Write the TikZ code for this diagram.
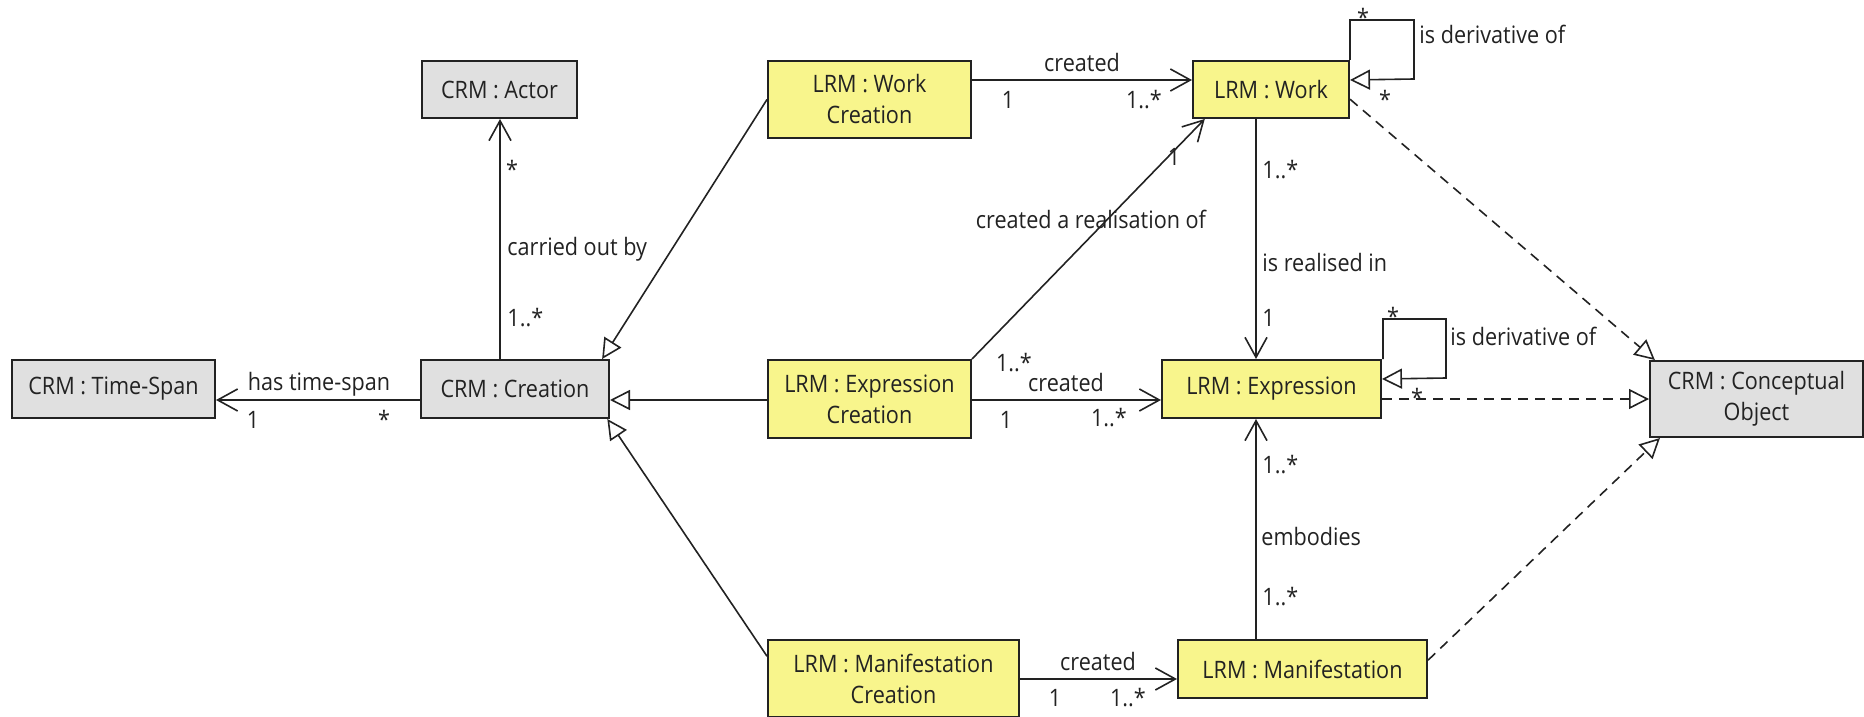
\documentclass[tikz,border=0pt]{standalone}
\usepackage{fontspec}
\setmainfont[FakeStretch=0.9]{Open Sans}
\usetikzlibrary{arrows.meta}
\definecolor{lrmfill}{HTML}{F8F58C}
\definecolor{crmfill}{HTML}{E0E0E0}
\definecolor{ink}{HTML}{222222}
\begin{document}
\begin{tikzpicture}[x=0.5pt,y=-0.5pt,
  txt/.style={font=\fontsize{12}{15.5}\selectfont, text=ink},
  box/.style={txt, draw=ink, line width=1pt, inner sep=0pt, align=center},
  lrm/.style={box, fill=lrmfill},
  crm/.style={box, fill=crmfill},
  lbl/.style={txt, inner sep=0pt, text height=8.5pt, text depth=0pt},
  assoc/.style={draw=ink, line width=0.8pt, -{Straight Barb[length=10pt,width=11pt,line width=0.8pt]}},
  gen/.style={draw=ink, line width=0.8pt, -{Triangle[open,length=10pt,width=10pt,fill=white,line width=0.8pt]}},
  real/.style={gen, dash pattern=on 5pt off 3.5pt},
  plain/.style={draw=ink, line width=0.8pt}
]
\useasboundingbox (0,0) rectangle (1864,717);

% classes
\node[crm, minimum width=101.5pt, minimum height=29pt]   (ts)    at (113.5,389)  {CRM : Time-Span};
\node[crm, minimum width=94pt,    minimum height=29pt]   (cr)    at (515,389)    {CRM : Creation};
\node[crm, minimum width=77.5pt,  minimum height=28.5pt] (actor) at (499.5,89.5) {CRM : Actor};
\node[lrm, minimum width=101.5pt, minimum height=38.5pt] (wc)    at (869.5,99.5) {LRM : Work\\Creation};
\node[lrm, minimum width=101.5pt, minimum height=39pt]   (ec)    at (869.5,399)  {LRM : Expression\\Creation};
\node[lrm, minimum width=125.5pt, minimum height=38.5pt] (mc)    at (893.5,678.5){LRM : Manifestation\\Creation};
\node[lrm, minimum width=78pt,    minimum height=28.5pt] (work)  at (1271,89.5)  {LRM : Work};
\node[lrm, minimum width=109.5pt, minimum height=29pt]   (expr)  at (1271.5,389) {LRM : Expression};
\node[lrm, minimum width=124.5pt, minimum height=29pt]   (man)   at (1302.5,669) {LRM : Manifestation};
\node[crm, minimum width=106.5pt, minimum height=38pt]   (co)    at (1756.5,399) {CRM : Conceptual\\Object};

% guide coordinates for straight connectors
\coordinate (xact) at (500,0);
\coordinate (xfrbr) at (1256,0);
\coordinate (ytop) at (0,80);
\coordinate (ymid) at (0,400);
\coordinate (ybot) at (0,679);
\coordinate (ywl) at (0,80);
\coordinate (yel) at (0,379);

% associations
\draw[assoc] (cr.west |- ymid) -- (ts.east |- ymid);
\draw[assoc] (cr.north -| xact) -- (actor.south -| xact);
\draw[assoc] (wc.east |- ytop) -- (work.west |- ytop);
\draw[assoc] (ec.east |- ymid) -- (expr.west |- ymid);
\draw[assoc] (mc.east |- ybot) -- (man.west |- ybot);
\draw[assoc] (ec.north east) -- (work.204.7);
\draw[assoc] (work.south -| xfrbr) -- (expr.north -| xfrbr);
\draw[assoc] (man.north -| xfrbr) -- (expr.south -| xfrbr);

% generalisations
\draw[gen] (wc.west) -- (cr.19.5);
\draw[gen] (ec.west |- ymid) -- (cr.east |- ymid);
\draw[gen] (mc.170) -- (cr.-18.8);

% self associations
\draw[gen] (work.north east) -- ++(0,-40) -- ++(64,0) -- ++(0,59) -- (work.east |- ywl);
\draw[gen] ([xshift=0.5pt]expr.north east) -- ++(0,-40) -- ++(63,0) -- ++(0,59) -- (expr.east |- yel);

% realisations of the conceptual object
\draw[real] (work.-7.6) -- (co.159.5);
\draw[real] (expr.east |- co.west) -- (co.west);
\draw[real] (man.4.1) -- (co.202.4);

% role names and multiplicities
\node[lbl] (tsname) at (319,382) {has time-span};
\node[lbl] (tsm1)   at (253,420) {1};
\node[lbl] (tsm2)   at (384,420) {*};

\node[lbl] (acm1)   at (512,170) {*};
\node[lbl, anchor=west] (acname) at (507,247) {carried out by};
\node[lbl, anchor=west] (acm2)   at (507,318) {1..*};

\node[lbl] (wcname) at (1082,63)  {created};
\node[lbl] (wcm1)   at (1008,100) {1};
\node[lbl] (wcm2)   at (1144,100) {1..*};

\node[lbl] (wlm1) at (1363,18)  {*};
\node[lbl] (wlm2) at (1385,100) {*};
\node[lbl, anchor=west] (wlname) at (1419,35) {is derivative of};

\node[lbl] (rlm1)   at (1174,157) {1};
\node[lbl] (rlname) at (1091,220) {created a realisation of};
\node[lbl] (rlm2)   at (1014,363) {1..*};

\node[lbl, anchor=west] (rim1)   at (1262,170) {1..*};
\node[lbl, anchor=west] (riname) at (1262,263) {is realised in};
\node[lbl, anchor=west] (rim2)   at (1262,318) {1};

\node[lbl] (elm1) at (1393,317) {*};
\node[lbl] (elm2) at (1417,398) {*};
\node[lbl, anchor=west] (elname) at (1450,337) {is derivative of};

\node[lbl] (ecname) at (1066,383) {created};
\node[lbl] (ecm1)   at (1006,420) {1};
\node[lbl] (ecm2)   at (1109,418) {1..*};

\node[lbl, anchor=west] (emm1)   at (1262,465) {1..*};
\node[lbl, anchor=west] (emname) at (1261,537) {embodies};
\node[lbl, anchor=west] (emm2)   at (1262,597) {1..*};

\node[lbl] (mcname) at (1098,662) {created};
\node[lbl] (mcm1)   at (1055,698) {1};
\node[lbl] (mcm2)   at (1128,698) {1..*};
\end{tikzpicture}
\end{document}
